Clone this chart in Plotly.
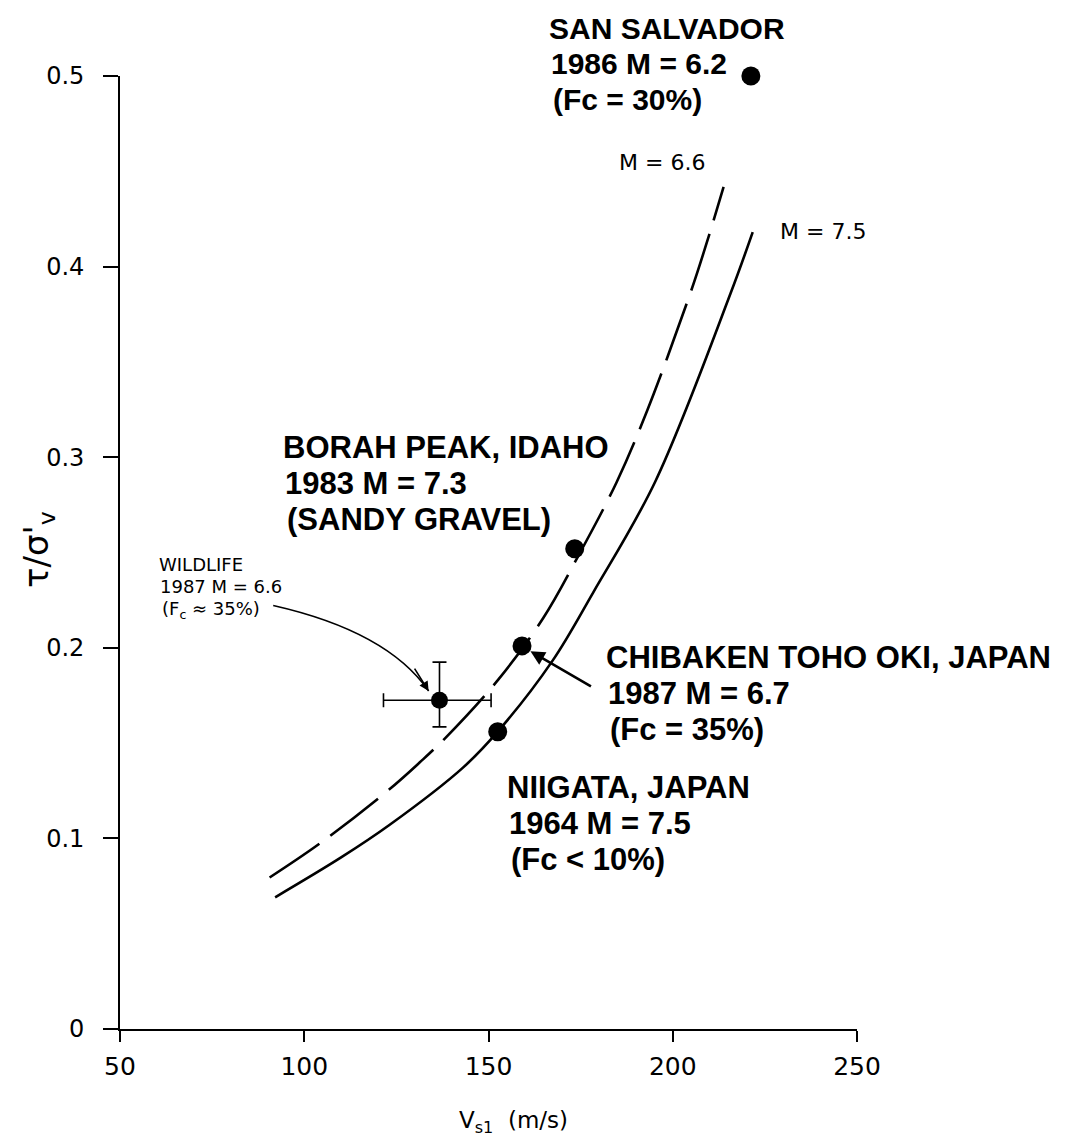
import plotly.graph_objects as go

# ---------------- data ----------------
X_TICKS = [50, 100, 150, 200, 250]
X_TICK_TEXT = ["50", "100", "150", "200", "250"]
Y_TICKS = [0, 0.1, 0.2, 0.3, 0.4, 0.5]
Y_TICK_TEXT = ["0", "0.1", "0.2", "0.3", "0.4", "0.5"]

# case histories (San Salvador, Borah Peak, Chibaken Toho Oki, Niigata)
site_vs1 = [221.2, 173.4, 159.1, 152.5]
site_ratio = [0.500, 0.252, 0.201, 0.156]

# Wildlife site with error bars
wild_vs1 = [136.7]
wild_ratio = [0.1725]
wild_vs1_minus = [15.2]
wild_vs1_plus = [14.0]
wild_ratio_minus = [0.014]
wild_ratio_plus = [0.020]

# boundary curves
m66_vs1 = [90.6, 104.4, 122.7, 131.3, 138.2, 152.7, 164.9, 174.3, 184.8, 193.1, 204.9, 208.8, 213.8]
m66_ratio = [0.0795, 0.0976, 0.1251, 0.1398, 0.1525, 0.1834, 0.2158, 0.2480, 0.2870, 0.3246, 0.3868, 0.4099, 0.4418]
m75_vs1 = [92.1, 110.0, 123.1, 143.0, 152.5, 167.3, 178.4, 195.2, 215.7, 221.7]
m75_ratio = [0.0691, 0.0900, 0.1070, 0.1370, 0.1560, 0.1930, 0.2290, 0.2870, 0.3860, 0.4181]

# ---------------- layout constants ----------------
OFF = 8                      # default page margin of the html body
W, H = 1082 - OFF, 1145 - OFF
ML, MR, MT, MB = 120 - OFF, 225, 76 - OFF, 116
PW, PH = W - ML - MR, H - MT - MB
X_RANGE = [50, 250]
Y_RANGE = [0, 0.5]


def ref_to_data(px, py):
    """Map a pixel position of the (slightly rotated) scan to data units."""
    dx, dy = px - 96.0, py - 1015.0
    a, b, c, d = 184.4, 10.2, 6.7, -190.2
    det = a * d - b * c
    u = (d * dx - b * dy) / det
    v = (a * dy - c * dx) / det
    return 50 + 50 * u, 0.1 * v


def ref_to_paper(px, py):
    x, t = ref_to_data(px, py)
    return (x - X_RANGE[0]) / (X_RANGE[1] - X_RANGE[0]), (t - Y_RANGE[0]) / (Y_RANGE[1] - Y_RANGE[0])


def page_to_paper(px, py):
    return (px - OFF - ML) / PW, (H + OFF - MB - py) / PH


BOLD = dict(family="Liberation Sans, Arial, sans-serif", size=31, color="black", weight="bold")
BOLD_SS = dict(BOLD, size=30)
THIN = dict(family="DejaVu Sans, sans-serif", size=22, color="black")
SMALL = dict(family="DejaVu Sans, sans-serif", size=18, color="black")

fig = go.Figure()

fig.add_trace(go.Scatter(
    x=m66_vs1, y=m66_ratio, mode="lines",
    line=dict(color="black", width=2.6, dash="60px,14px", shape="spline", smoothing=1.0),
    hoverinfo="skip"))
fig.add_trace(go.Scatter(
    x=m75_vs1, y=m75_ratio, mode="lines",
    line=dict(color="black", width=2.6, shape="spline", smoothing=1.0),
    hoverinfo="skip"))
fig.add_trace(go.Scatter(
    x=site_vs1, y=site_ratio, mode="markers",
    marker=dict(color="black", size=19), cliponaxis=False))
fig.add_trace(go.Scatter(
    x=wild_vs1, y=wild_ratio, mode="markers",
    marker=dict(color="black", size=17),
    error_x=dict(type="data", symmetric=False, array=wild_vs1_plus, arrayminus=wild_vs1_minus,
                 color="black", thickness=1.6, width=7),
    error_y=dict(type="data", symmetric=False, array=wild_ratio_plus, arrayminus=wild_ratio_minus,
                 color="black", thickness=1.6, width=7),
    cliponaxis=False))

annotations = []


def add_text(text, px, py, font):
    xp, yp = ref_to_paper(px, py)
    annotations.append(dict(text=text, x=xp, y=yp, xref="paper", yref="paper",
                            xanchor="left", yanchor="middle", showarrow=False, font=font))


for txt, py in [("SAN SALVADOR", 32), ("1986 M = 6.2", 67), ("(Fc = 30%)", 103)]:
    add_text(txt, 577, py, BOLD_SS)
for txt, py in [("BORAH PEAK, IDAHO", 441), ("1983 M = 7.3", 477), ("(SANDY GRAVEL)", 513)]:
    add_text(txt, 288, py, BOLD)
for txt, py in [("CHIBAKEN TOHO OKI, JAPAN", 662), ("1987 M = 6.7", 698), ("(Fc = 35%)", 734)]:
    add_text(txt, 600, py, BOLD)
for txt, py in [("NIIGATA, JAPAN", 788), ("1964 M = 7.5", 824), ("(Fc < 10%)", 860)]:
    add_text(txt, 494, py, BOLD)
for txt, py in [("WILDLIFE", 553), ("1987 M = 6.6", 575), ("(F<sub>c</sub> ≈ 35%)", 598)]:
    add_text(txt, 158, py, SMALL)
add_text("M = 6.6", 640, 168, THIN)
add_text("M = 7.5", 797, 243, THIN)

# arrow to the Chibaken point
tx, ty = ref_to_data(527, 653)
annotations.append(dict(x=tx, y=ty, xref="x", yref="y", text="", showarrow=True,
                        ax=62, ay=36, arrowhead=2, arrowsize=1.1, arrowwidth=2.6, arrowcolor="black"))
# arrowhead of the curved Wildlife pointer
hx, hy = ref_to_data(423, 689)
annotations.append(dict(x=hx, y=hy, xref="x", yref="y", text="", showarrow=True,
                        ax=-15, ay=-24, arrowhead=2, arrowsize=1.2, arrowwidth=1.6, arrowcolor="black"))

# axis titles
yt = page_to_paper(38, 550)
annotations.append(dict(text="τ/σ'<sub>v</sub>", x=yt[0], y=yt[1], xref="paper", yref="paper",
                        xanchor="center", yanchor="middle", textangle=-90, showarrow=False,
                        font=dict(family="DejaVu Sans, sans-serif", size=34, color="black")))
xt = page_to_paper(513, 1122)
annotations.append(dict(text="V<sub>s1</sub>  (m/s)", x=xt[0], y=xt[1], xref="paper", yref="paper",
                        xanchor="center", yanchor="middle", showarrow=False,
                        font=dict(family="DejaVu Sans, sans-serif", size=23, color="black")))

# curved pointer for Wildlife
p0 = ref_to_data(272, 598)
c1 = ref_to_data(385, 628)
p2 = ref_to_data(423, 689)
path = f"M {p0[0]},{p0[1]} Q {c1[0]},{c1[1]} {p2[0]},{p2[1]}"

fig.update_layout(
    width=W, height=H,
    margin=dict(l=ML, r=MR, t=MT, b=MB),
    paper_bgcolor="white", plot_bgcolor="white",
    showlegend=False,
    annotations=annotations,
    shapes=[dict(type="path", path=path, xref="x", yref="y", line=dict(color="black", width=1.6))],
    xaxis=dict(range=X_RANGE, tickvals=X_TICKS, ticktext=X_TICK_TEXT, showgrid=False, zeroline=False,
               showline=True, linecolor="black", linewidth=1.8, ticks="outside", ticklen=11,
               tickwidth=1.6, tickcolor="black", ticklabelstandoff=3,
               tickfont=dict(family="DejaVu Sans, sans-serif", size=25, color="black")),
    yaxis=dict(range=Y_RANGE, tickvals=Y_TICKS, ticktext=Y_TICK_TEXT, showgrid=False, zeroline=False,
               showline=True, linecolor="black", linewidth=1.8, ticks="outside", ticklen=15,
               tickwidth=1.6, tickcolor="black", ticklabelstandoff=14,
               tickfont=dict(family="DejaVu Sans, sans-serif", size=24, color="black")),
)

fig.write_html("out.html")
